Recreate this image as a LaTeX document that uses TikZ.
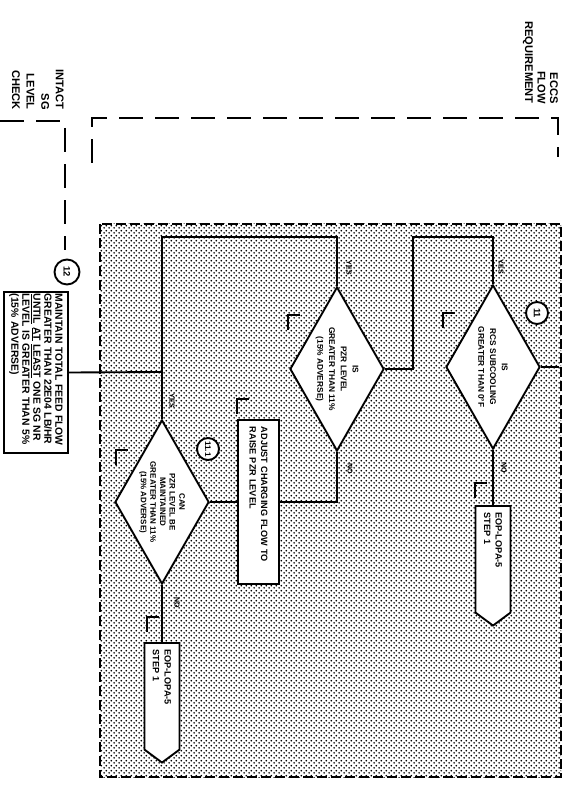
\documentclass[tikz,border=0pt]{standalone}
\usepackage{fontspec}
\setmainfont{Liberation Sans}
\newfontfamily\flowfont{Liberation Sans}
\usetikzlibrary{shapes.geometric,shapes.symbols,patterns}
\pgfdeclarepatternformonly{stipple}{\pgfpointorigin}{\pgfpoint{4pt}{4pt}}{\pgfpoint{4pt}{4pt}}{%
  \pgfpathcircle{\pgfpoint{1pt}{1pt}}{0.85pt}%
  \pgfpathcircle{\pgfpoint{3pt}{3pt}}{0.85pt}%
  \pgfusepath{fill}}

\begin{document}
\begin{tikzpicture}[x=0.03cm,y=-0.03cm,
    link/.style={line width=1.6pt},
    decision/.style={diamond,draw,fill=white,line width=1.6pt,rotate=-90,
      aspect=1.75,inner sep=0pt,minimum width=4.92cm,minimum height=2.82cm,
      align=center,font=\flowfont\bfseries\fontsize{7.1}{10}\selectfont},
    action/.style={rectangle,draw,fill=white,line width=1.6pt,rotate=-90,
      align=left,inner xsep=0.2cm,inner ysep=0pt,
      font=\flowfont\bfseries\fontsize{7.8}{10}\selectfont},
    exitbox/.style={signal,signal to=east,signal pointer angle=107,draw,fill=white,
      line width=1.6pt,rotate=-90,text width=2.8cm,align=left,minimum height=1.05cm,
      inner xsep=0.2cm,inner ysep=0pt,font=\flowfont\bfseries\fontsize{7.8}{10}\selectfont},
    stepnum/.style={circle,draw,fill=white,line width=1.6pt,rotate=-90,
      minimum size=0.66cm,inner sep=0pt,font=\flowfont\bfseries\fontsize{8}{9}\selectfont},
    answer/.style={rotate=-90,inner sep=0pt,font=\flowfont\bfseries\fontsize{6}{7}\selectfont},
    header/.style={rotate=-90,inner sep=0pt,align=right,anchor=north east,
      font=\flowfont\bfseries\fontsize{9.5}{10.6}\selectfont},
    stepmark/.style={line width=1.5pt},
    column/.style={line width=1.6pt,dash pattern=on 0.72cm off 0.36cm},
    region/.style={pattern=stipple,draw,line width=1.6pt,
      dash pattern=on 0.3cm off 0.12cm}
  ]
  \useasboundingbox (0,0) rectangle (566,797);

  % column headers
  \draw[column] (92,163) -- (92,118) -- (558,118) -- (558,157);
  \draw[column] (0,121) -- (65,121) -- (65,250);
  \node[header] (eccs) at (558,104) {ECCS\\FLOW\\REQUIREMENT};
  \node[header,font=\flowfont\bfseries\fontsize{9.5}{12.5}\selectfont] (intact)
    at (64,110) {INTACT\\SG\\LEVEL\\CHECK};

  % shaded area
  \draw[region] (100,224) rectangle (561,777);

  % steps
  \node[decision] (d1) at (493,367) {IS\\RCS SUBCOOLING\\GREATER THAN 0°F};
  \node[decision] (d2) at (337,369)
    {IS\\PZR LEVEL\\GREATER THAN 11\%\\(15\% ADVERSE)};
  \node[decision,font=\flowfont\bfseries\fontsize{6.8}{8.2}\selectfont] (d3)
    at (162,502) {CAN\\PZR LEVEL BE\\MAINTAINED\\GREATER THAN 11\%\\(15\% ADVERSE)};
  \node[action,text width=4.5cm,minimum height=1.23cm] (adjust) at (258.5,502)
    {ADJUST CHARGING FLOW TO\\RAISE PZR LEVEL};
  \node[action,text width=4.73cm,inner xsep=0.05cm,minimum height=1.92cm,
    font=\flowfont\bfseries\fontsize{8.85}{9.4}\selectfont] (maintain) at (36,372.5)
    {MAINTAIN TOTAL FEED FLOW\\GREATER THAN 22E04 LB/HR\\
     \underline{UNTIL} \underline{AT} \underline{LEAST} ONE SG NR\\
     LEVEL IS GREATER THAN 5\%\\(15\% ADVERSE)};
  \node[exitbox,anchor=west] (eop1) at (493,505) {EOP-LOPA-5\\STEP 1};
  \node[exitbox,anchor=west] (eop2) at (162,642) {EOP-LOPA-5\\STEP 1};

  \node[stepnum] (n11) at (537,313) {11};
  \node[stepnum,font=\flowfont\bfseries\fontsize{7}{8}\selectfont] (n111) at (208,449) {11.1};
  \node[stepnum,minimum size=0.75cm] (n12) at (67,272) {12};

  \node[answer] (yes1) at (501,267) {YES};
  \node[answer] (no1) at (504,468) {NO};
  \node[answer] (yes2) at (349,268) {YES};
  \node[answer] (no2) at (350,469) {NO};
  \node[answer] (yes3) at (172,401) {YES};
  \node[answer] (no3) at (177,603) {NO};

  % connectors
  \coordinate (entry) at (559,367);
  \coordinate (j1) at (413,237);
  \coordinate (j2) at (162,237);
  \coordinate (j3) at (162,372);
  \draw[link] (entry) -- (d1.north);
  \draw[link] (d1.west) |- (j1) |- (d2.north);
  \draw[link] (d1.east) -- (eop1.west);
  \draw[link] (d2.west) |- (j2) -- (d3.west);
  \draw[link] (j3) -- (maintain.north);
  \draw[link] (d2.east) |- (adjust.north);
  \draw[link] (adjust.south) -- (d3.north);
  \draw[link] (d3.east) -- (eop2.west);

  % place-keeping marks
  \foreach \x/\y in {443/313,288/315,116/450,237/399,475/483,147/617}
    \draw[stepmark] (\x,\y+15) -- (\x,\y) -- (\x+12,\y);
\end{tikzpicture}
\end{document}
